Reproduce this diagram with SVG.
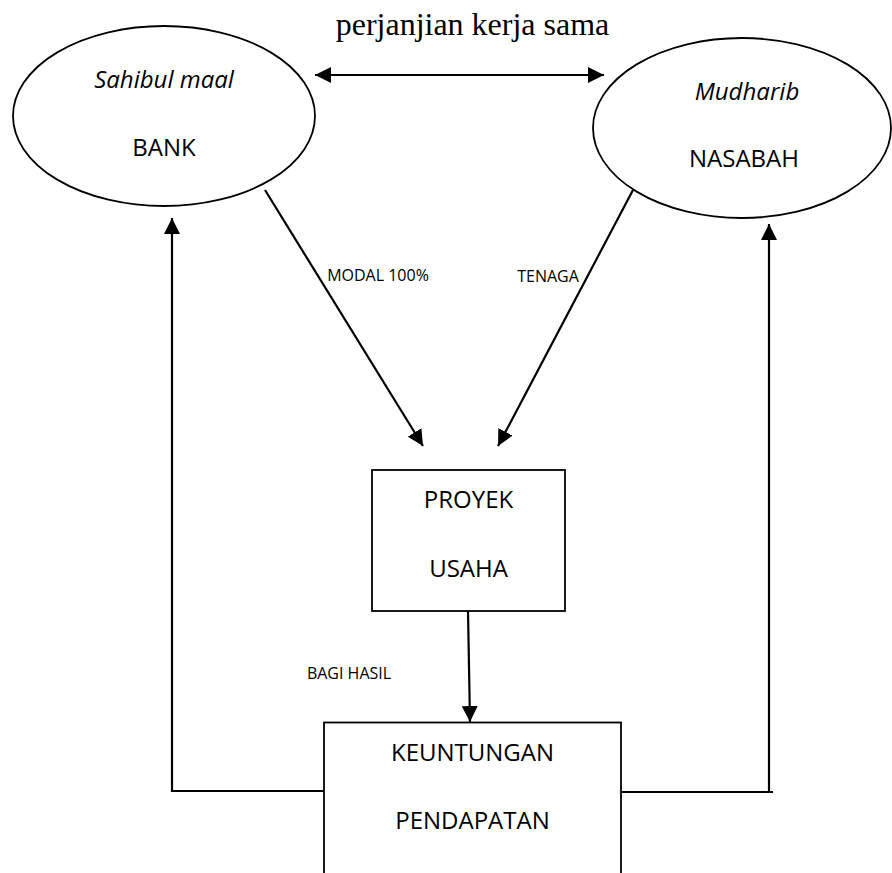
<svg xmlns="http://www.w3.org/2000/svg" width="892" height="873" viewBox="0 0 892 873">
<style>
  .shape { fill: #ffffff; stroke: #000000; stroke-width: 1.8; }
  .conn { fill: none; stroke: #000000; stroke-width: 2.2; }
  .lbl { font-family: "Open Sans", "Noto Sans", sans-serif; fill: #000000; text-anchor: middle; }
  .big { font-size: 24px; }
  .small { font-size: 16px; }
  .ital { font-style: italic; }
  .title { font-family: "Liberation Serif", "Times New Roman", serif; font-size: 32px; fill: #000000; text-anchor: middle; }
</style>
<defs>
  <marker id="ah" markerUnits="userSpaceOnUse" markerWidth="18" markerHeight="16" refX="16" refY="8" orient="auto-start-reverse">
    <path d="M0,0 L16,8 L0,16 z" fill="#000000"/>
  </marker>
</defs>
<rect width="892" height="873" fill="#ffffff"/>

<text class="title" x="472.5" y="35">perjanjian kerja sama</text>

<g id="bank">
  <ellipse class="shape" cx="164" cy="116" rx="151" ry="90"/>
  <text class="lbl big ital" x="164" y="88">Sahibul maal</text>
  <text class="lbl big" x="164" y="156">BANK</text>
</g>

<g id="nasabah">
  <ellipse class="shape" cx="742" cy="128" rx="149" ry="90"/>
  <text class="lbl big ital" x="747" y="100">Mudharib</text>
  <text class="lbl big" x="744" y="167">NASABAH</text>
</g>

<g id="proyek">
  <rect class="shape" x="372" y="470" width="193" height="141"/>
  <text class="lbl big" x="468.5" y="508">PROYEK</text>
  <text class="lbl big" x="468.5" y="577">USAHA</text>
</g>

<g id="keuntungan">
  <rect class="shape" x="324" y="722.5" width="297" height="170"/>
  <text class="lbl big" x="472.5" y="761">KEUNTUNGAN</text>
  <text class="lbl big" x="472.5" y="829">PENDAPATAN</text>
</g>

<g id="connectors">
  <line class="conn" x1="315" y1="75" x2="604" y2="75" stroke-width="2.8" marker-start="url(#ah)" marker-end="url(#ah)"/>
  <line class="conn" x1="265" y1="190" x2="423" y2="446" marker-end="url(#ah)"/>
  <line class="conn" x1="633" y1="190" x2="498" y2="446" marker-end="url(#ah)"/>
  <line class="conn" x1="468" y1="611" x2="470" y2="722" marker-end="url(#ah)"/>
  <polyline class="conn" points="324,791 172,791 172,218" marker-end="url(#ah)"/>
  <polyline class="conn" points="621,792 773,792"/>
  <line class="conn" x1="769" y1="792" x2="769" y2="224" marker-end="url(#ah)"/>
  <text class="lbl small" x="378" y="281">MODAL 100%</text>
  <text class="lbl small" x="548" y="282">TENAGA</text>
  <text class="lbl small" x="349" y="679">BAGI HASIL</text>
</g>
</svg>
